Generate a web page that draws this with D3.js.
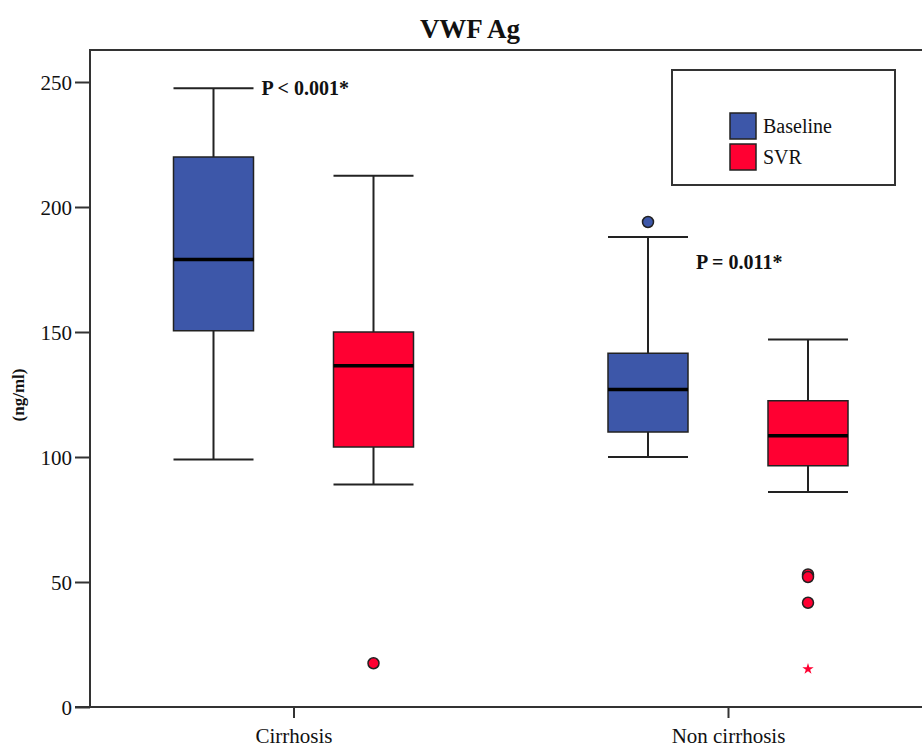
<!DOCTYPE html>
<html>
<head>
<meta charset="utf-8">
<script src="https://cdn.jsdelivr.net/npm/d3@7"></script>
<style>
  body { margin: 0; background: #fff; }
  svg text { font-family: "Liberation Serif", "DejaVu Serif", serif; }
</style>
</head>
<body>
<div id="chart"></div>
<script>
// groups and series
var groups = ["Cirrhosis", "Non cirrhosis"];
var series = ["Baseline", "SVR"];
var colors = ["#3d57a9", "#ff0032"];
var yTicks = [0, 50, 100, 150, 200, 250];

// box stats, one value per group/series pair (row = group, col = series)
var whiskerLow  = [[99, 89], [100, 86]];
var q1          = [[150.5, 104], [110, 96.5]];
var median      = [[179, 136.5], [127, 108.5]];
var q3          = [[220, 150], [141.5, 122.5]];
var whiskerHigh = [[247.5, 212.5], [188, 147]];

// outliers (circles) and extremes (stars)
var outliers = [
  {group: "Non cirrhosis", series: "Baseline", value: 194},
  {group: "Cirrhosis", series: "SVR", value: 17.5},
  {group: "Non cirrhosis", series: "SVR", value: 53},
  {group: "Non cirrhosis", series: "SVR", value: 52},
  {group: "Non cirrhosis", series: "SVR", value: 41.7}
];
var extremes = [
  {group: "Non cirrhosis", series: "SVR", value: 15.2}
];

var pLabels = [
  {text: "P < 0.001*", group: "Cirrhosis", value: 247.5},
  {text: "P = 0.011*", group: "Non cirrhosis", value: 178}
];

var width = 922, height = 750;
var plotLeft = 90, plotTop = 50, plotBottom = 707;

var svg = d3.select("#chart").append("svg")
    .attr("width", width)
    .attr("height", height);

var y = d3.scaleLinear().domain([0, 250]).range([plotBottom, 82]);
var x = d3.scalePoint().domain(groups).range([293.5, 728]);
var inner = d3.scaleBand().domain(series).range([-160, 160])
    .paddingInner(0.5).paddingOuter(0.25);

// frame top line
svg.append("line")
    .attr("x1", plotLeft).attr("x2", width + 5)
    .attr("y1", plotTop).attr("y2", plotTop)
    .attr("stroke", "#333").attr("stroke-width", 2);

// y axis
var yAxis = svg.append("g")
    .attr("transform", "translate(" + plotLeft + ",0)")
    .call(d3.axisLeft(y).tickValues(yTicks).tickSize(15).tickPadding(3).tickSizeOuter(0));
yAxis.select(".domain").attr("d", "M0," + (plotTop - 1) + "V" + plotBottom);

// x axis
var xAxis = svg.append("g")
    .attr("transform", "translate(0," + plotBottom + ")")
    .call(d3.axisBottom(x).tickSize(11).tickPadding(10).tickSizeOuter(0));
xAxis.select(".domain").attr("d", "M" + (plotLeft - 15) + ",0H" + (width + 5));

svg.selectAll(".domain").attr("stroke", "#333").attr("stroke-width", 2);
svg.selectAll(".tick line").attr("stroke", "#333").attr("stroke-width", 2);
svg.selectAll(".tick text")
    .attr("fill", "#111")
    .style("font-family", "'Liberation Serif', serif")
    .style("font-size", "21px");
yAxis.selectAll(".tick text").attr("dy", "0.34em");

// build box records
var boxes = [];
groups.forEach(function(g, i) {
  series.forEach(function(s, j) {
    boxes.push({
      group: g, series: s, color: colors[j],
      lo: whiskerLow[i][j], q1: q1[i][j], med: median[i][j],
      q3: q3[i][j], hi: whiskerHigh[i][j]
    });
  });
});

var bw = inner.bandwidth();
var bx = function(d) { return x(d.group) + inner(d.series); };
var cx = function(d) { return bx(d) + bw / 2; };

var box = svg.selectAll(".box").data(boxes).enter().append("g").attr("class", "box");

// whisker stems
box.append("line")
    .attr("x1", cx).attr("x2", cx)
    .attr("y1", function(d) { return y(d.hi); })
    .attr("y2", function(d) { return y(d.lo); })
    .attr("stroke", "#222").attr("stroke-width", 2);

// caps
["hi", "lo"].forEach(function(k) {
  box.append("line")
      .attr("x1", bx)
      .attr("x2", function(d) { return bx(d) + bw; })
      .attr("y1", function(d) { return y(d[k]); })
      .attr("y2", function(d) { return y(d[k]); })
      .attr("stroke", "#222").attr("stroke-width", 2);
});

box.append("rect")
    .attr("x", bx)
    .attr("y", function(d) { return y(d.q3); })
    .attr("width", bw)
    .attr("height", function(d) { return y(d.q1) - y(d.q3); })
    .attr("fill", function(d) { return d.color; })
    .attr("stroke", "#222").attr("stroke-width", 1.5);

box.append("line")
    .attr("x1", bx)
    .attr("x2", function(d) { return bx(d) + bw; })
    .attr("y1", function(d) { return y(d.med); })
    .attr("y2", function(d) { return y(d.med); })
    .attr("stroke", "#000").attr("stroke-width", 3.5);

// outlier circles
svg.selectAll(".outlier").data(outliers).enter().append("circle")
    .attr("class", "outlier")
    .attr("cx", cx)
    .attr("cy", function(d) { return y(d.value); })
    .attr("r", 5.5)
    .attr("fill", function(d) { return colors[series.indexOf(d.series)]; })
    .attr("stroke", "#222").attr("stroke-width", 1.5);

// extreme stars
svg.selectAll(".extreme").data(extremes).enter().append("path")
    .attr("class", "extreme")
    .attr("d", d3.symbol().type(d3.symbolStar).size(40))
    .attr("transform", function(d) { return "translate(" + cx(d) + "," + y(d.value) + ")"; })
    .attr("fill", function(d) { return colors[series.indexOf(d.series)]; });

// p-value labels, placed right of the baseline whisker
svg.selectAll(".plabel").data(pLabels).enter().append("text")
    .attr("class", "plabel")
    .attr("x", function(d) { return x(d.group) + inner("Baseline") + bw + 8; })
    .attr("y", function(d) { return y(d.value); })
    .attr("dy", "0.35em")
    .style("font-size", "20px")
    .style("font-weight", "bold")
    .attr("fill", "#111")
    .text(function(d) { return d.text; });

// title
svg.append("text")
    .attr("x", 470).attr("y", 38)
    .attr("text-anchor", "middle")
    .style("font-size", "27px").style("font-weight", "bold")
    .attr("fill", "#111")
    .text("VWF Ag");

// y label
svg.append("text")
    .attr("transform", "translate(24,395) rotate(-90)")
    .attr("text-anchor", "middle")
    .style("font-size", "17px").style("font-weight", "bold")
    .attr("fill", "#111")
    .text("(ng/ml)");

// legend
var legend = svg.append("g");
legend.append("rect")
    .attr("x", 672).attr("y", 70).attr("width", 223).attr("height", 115)
    .attr("fill", "#fff").attr("stroke", "#333").attr("stroke-width", 2);

var li = legend.selectAll(".li").data(series).enter().append("g")
    .attr("transform", function(d, i) { return "translate(730," + (113 + i * 31) + ")"; });
li.append("rect")
    .attr("width", 26).attr("height", 26)
    .attr("fill", function(d, i) { return colors[i]; })
    .attr("stroke", "#222").attr("stroke-width", 1.5);
li.append("text")
    .attr("x", 33).attr("y", 13).attr("dy", "0.35em")
    .style("font-size", "20px")
    .attr("fill", "#111")
    .text(function(d) { return d; });
</script>
</body>
</html>
